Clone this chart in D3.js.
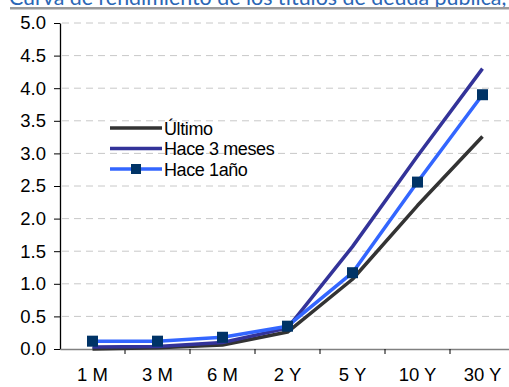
<!DOCTYPE html>
<html>
<head>
<meta charset="utf-8">
<script src="https://cdn.jsdelivr.net/npm/d3@7/dist/d3.min.js"></script>
<style>
  html, body { margin: 0; padding: 0; background: #fff; overflow: hidden; }
  svg { display: block; }
</style>
</head>
<body>
<svg id="chart" width="509" height="387"></svg>
<script>
// Curva de rendimiento: plazos y rendimientos (%)
const plazos = ["1 M", "3 M", "6 M", "2 Y", "5 Y", "10 Y", "30 Y"];
const ultimo = [0.00, 0.02, 0.06, 0.26, 1.07, 2.20, 3.26];
const hace3meses = [0.03, 0.04, 0.10, 0.32, 1.57, 2.96, 4.30];
const hace1ano = [0.12, 0.12, 0.18, 0.35, 1.17, 2.56, 3.90];
const yTicks = [0, 0.5, 1, 1.5, 2, 2.5, 3, 3.5, 4, 4.5, 5];
const nombres = ["Último", "Hace 3 meses", "Hace 1año"];

const series = [
  { name: nombres[0], values: ultimo, color: "#333333", marker: false },
  { name: nombres[1], values: hace3meses, color: "#333399", marker: false },
  { name: nombres[2], values: hace1ano, color: "#3366ff", marker: true }
];

const svg = d3.select("#chart");
const font = "'Liberation Sans', Arial, sans-serif";

// Title (runs past the top edge) and rule beneath it
svg.append("text")
  .attr("x", 9).attr("y", 5)
  .attr("font-family", "Lato, 'Open Sans', sans-serif")
  .attr("font-size", 21.4)
  .attr("fill", "#2a66b5")
  .text("Curva de rendimiento de los títulos de deuda pública,");
svg.append("rect")
  .attr("x", 10).attr("y", 7).attr("width", 499).attr("height", 2.5)
  .attr("fill", "#9a9a9a");

const x = d3.scaleBand().domain(plazos).range([60, 515]).padding(0);
const y = d3.scaleLinear().domain([0, 5]).range([349, 23]);

// Dashed gridlines
svg.append("g")
  .selectAll("line")
  .data(yTicks.filter(d => d > 0))
  .join("line")
  .attr("x1", 62).attr("x2", 509)
  .attr("y1", d => y(d)).attr("y2", d => y(d))
  .attr("stroke", "#c8c8c8")
  .attr("stroke-width", 1)
  .attr("stroke-dasharray", "7,5");

// Y axis
const yAxis = svg.append("g")
  .attr("transform", "translate(60,0)")
  .call(d3.axisLeft(y).tickValues(yTicks).tickFormat(d3.format(".1f")).tickSize(6).tickSizeOuter(0).tickPadding(8));
yAxis.select(".domain").attr("stroke", "#000").attr("stroke-width", 1.3);
yAxis.selectAll(".tick line").attr("stroke", "#000");
yAxis.selectAll("text")
  .attr("font-family", font).attr("font-size", 18.5).attr("fill", "#000");

// X axis
const xAxis = svg.append("g")
  .attr("transform", "translate(0,349)")
  .call(d3.axisBottom(x).tickSize(0).tickSizeOuter(0).tickPadding(19));
xAxis.select(".domain").attr("stroke", "#808080").attr("stroke-width", 1.5);
xAxis.selectAll("text")
  .attr("font-family", font).attr("font-size", 18.5).attr("fill", "#000");
// tick marks between categories
xAxis.append("g")
  .selectAll("line")
  .data(plazos.slice(1))
  .join("line")
  .attr("x1", d => x(d)).attr("x2", d => x(d))
  .attr("y1", 0).attr("y2", 5)
  .attr("stroke", "#000").attr("stroke-width", 1);

const cx = d => x(d) + x.bandwidth() / 2;

const line = d3.line()
  .x((d, i) => cx(plazos[i]))
  .y(d => y(d));

series.forEach(s => {
  svg.append("path")
    .datum(s.values)
    .attr("d", line)
    .attr("fill", "none")
    .attr("stroke", s.color)
    .attr("stroke-width", 3.5)
    .attr("stroke-linejoin", "round");
  if (s.marker) {
    svg.append("g")
      .selectAll("rect")
      .data(s.values)
      .join("rect")
      .attr("x", (d, i) => cx(plazos[i]) - 5.5)
      .attr("y", d => y(d) - 5.5)
      .attr("width", 11).attr("height", 11)
      .attr("fill", "#003366");
  }
});

// Legend
const legend = svg.append("g").attr("transform", "translate(110,128)");
series.forEach((s, i) => {
  const g = legend.append("g").attr("transform", `translate(0,${i * 20.5})`);
  g.append("line")
    .attr("x1", 0).attr("x2", 52)
    .attr("stroke", s.color).attr("stroke-width", 3.5);
  if (s.marker) {
    g.append("rect").attr("x", 21).attr("y", -5).attr("width", 10).attr("height", 10).attr("fill", "#003366");
  }
  g.append("text")
    .attr("x", 54).attr("y", 6.5)
    .attr("font-family", font).attr("font-size", 18)
    .attr("letter-spacing", -0.4)
    .attr("fill", "#000")
    .text(s.name);
});
</script>
</body>
</html>
